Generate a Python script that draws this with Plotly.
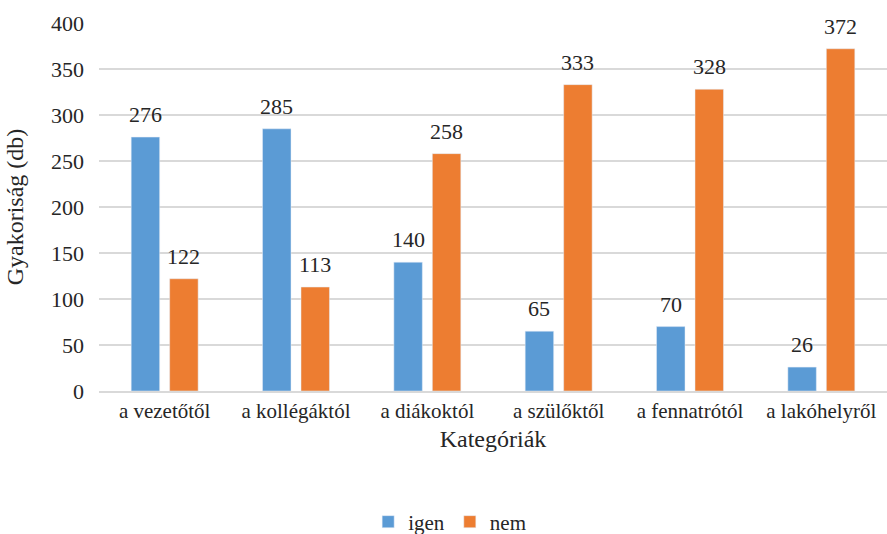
import plotly.graph_objects as go

categories = ["a vezetőtől", "a kollégáktól", "a diákoktól", "a szülőktől", "a fennatrótól", "a lakóhelyről"]
igen = [276, 285, 140, 65, 70, 26]
nem = [122, 113, 258, 333, 328, 372]
series = [("igen", igen, "#5B9BD5"), ("nem", nem, "#ED7D31")]

FONT = "Times New Roman, Liberation Serif, DejaVu Serif, serif"
TXT = "#262626"

fig = go.Figure()
for name, vals, color in series:
    fig.add_trace(go.Bar(name=name, x=categories, y=vals, marker_color=color,
                         text=vals, textposition="none", offsetgroup=name))

fig.update_layout(
    width=887, height=534,
    margin=dict(l=99, r=0, t=23, b=143, autoexpand=False),
    paper_bgcolor="white", plot_bgcolor="white",
    barmode="group", bargap=0.414, bargroupgap=0.26,
    font=dict(family=FONT, size=22, color=TXT),
    showlegend=True,
    legend=dict(
        orientation="h", x=0.445, xanchor="center", y=-0.356, yanchor="middle",
        font=dict(family=FONT, size=21, color=TXT),
        traceorder="normal", itemwidth=30,
    ),
    xaxis=dict(
        title=dict(text="Kategóriák", font=dict(family=FONT, size=24, color=TXT), standoff=8),
        tickfont=dict(family=FONT, size=21, color=TXT),
        showline=True, linecolor="#d9d9d9", linewidth=1.5, ticks="",
    ),
    yaxis=dict(
        title=dict(text="Gyakoriság (db)", font=dict(family=FONT, size=24, color=TXT), standoff=20),
        range=[0, 400], dtick=50, tickfont=dict(family=FONT, size=22, color=TXT),
        showgrid=True, gridcolor="#d9d9d9", gridwidth=1.5, zeroline=False,
        ticks="", ticklabelstandoff=14,
    ),
)

# value labels above each bar, placed in the bar's own offset slot
n = len(series)
slot = (1 - 0.414) / n
for i, (name, vals, color) in enumerate(series):
    off = -0.5 * (1 - 0.414) + slot * (i + 0.5)
    for j, v in enumerate(vals):
        fig.add_annotation(
            x=j + off, y=v, xref="x", yref="y", text=str(v), showarrow=False,
            yanchor="bottom", yshift=8, font=dict(family=FONT, size=22, color=TXT),
        )

fig.write_html("out.html")
